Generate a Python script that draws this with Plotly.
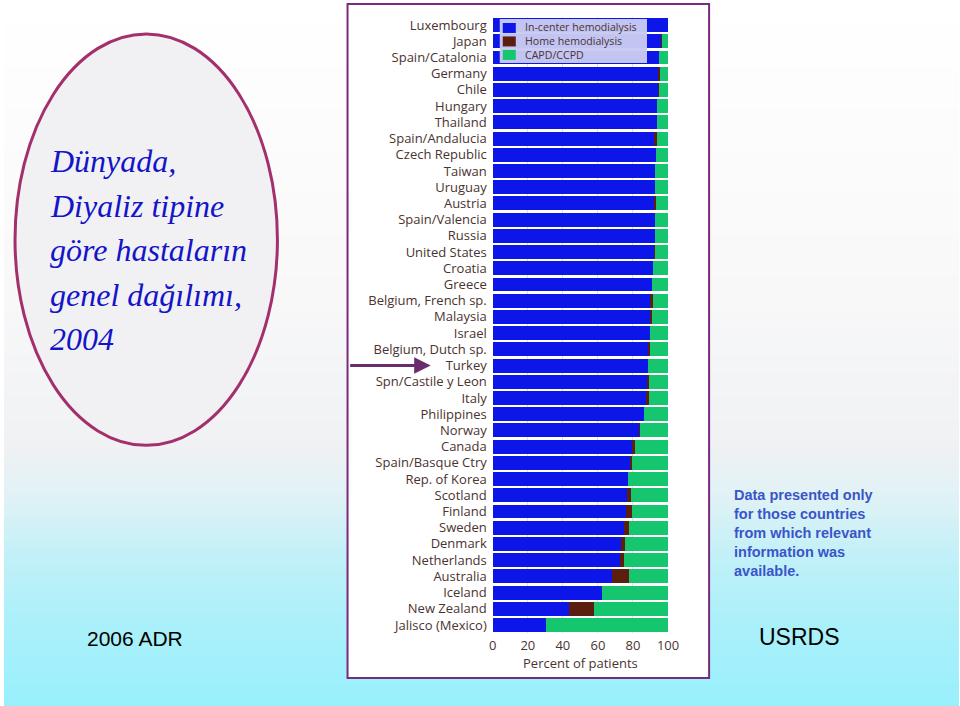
import plotly.graph_objects as go

countries = ["Luxembourg", "Japan", "Spain/Catalonia", "Germany", "Chile", "Hungary", "Thailand",
             "Spain/Andalucia", "Czech Republic", "Taiwan", "Uruguay", "Austria", "Spain/Valencia",
             "Russia", "United States", "Croatia", "Greece", "Belgium, French sp.", "Malaysia",
             "Israel", "Belgium, Dutch sp.", "Turkey", "Spn/Castile y Leon", "Italy", "Philippines",
             "Norway", "Canada", "Spain/Basque Ctry", "Rep. of Korea", "Scotland", "Finland",
             "Sweden", "Denmark", "Netherlands", "Australia", "Iceland", "New Zealand",
             "Jalisco (Mexico)"]
in_center = [100.0, 96.2, 94.8, 94.5, 94.3, 93.9, 93.5, 92.2, 92.9, 92.5, 92.5, 92.0, 92.5,
             92.3, 92.0, 91.6, 90.8, 89.9, 89.5, 89.5, 88.9, 88.5, 87.8, 87.2, 86.0,
             83.4, 79.5, 78.6, 77.4, 76.5, 75.9, 75.1, 73.4, 72.7, 68.1, 62.3, 43.6, 30.6]
home_hd = [0.0, 0.6, 0.0, 0.9, 0.5, 0.0, 0.0, 1.7, 0.0, 0.0, 0.0, 1.3, 0.0,
           0.0, 0.8, 0.0, 0.0, 1.3, 1.3, 0.0, 1.0, 0.0, 1.3, 1.7, 0.0,
           0.6, 1.9, 0.8, 0.0, 2.5, 3.4, 2.9, 2.1, 1.9, 9.9, 0.0, 14.0, 0.0]
capd = [0.0, 3.2, 5.2, 4.6, 5.2, 6.1, 6.5, 6.1, 7.1, 7.5, 7.5, 6.7, 7.5,
        7.7, 7.2, 8.4, 9.2, 8.8, 9.2, 10.5, 10.1, 11.5, 10.9, 11.1, 14.0,
        16.0, 18.6, 20.6, 22.6, 21.0, 20.7, 22.0, 24.5, 25.4, 22.0, 37.7, 42.4, 69.4]
series_names = ["In-center hemodialysis", "Home hemodialysis", "CAPD/CCPD"]
x_ticks = [0, 20, 40, 60, 80, 100]

W, H = 970, 706
SX, OX = 0.983, 7.0
def px(x):
    return ((x - OX) / SX) / W
def py(y):
    return 1 - y / H

label_color = "#4a3330"
colors = ["#0c16e8", "#5c1e0e", "#16c66e"]
fig = go.Figure()
for name, vals, col in zip(series_names, [in_center, home_hd, capd], colors):
    fig.add_trace(go.Bar(y=countries, x=vals, name=name, orientation="h", showlegend=False,
                         marker=dict(color=col, line=dict(width=0))))

shapes = []
# background gradient
stops = [(0, (255, 255, 255)), (300, (248, 248, 249)), (450, (239, 241, 243)),
         (500, (222, 242, 246)), (560, (192, 240, 248)), (620, (172, 240, 250)),
         (706, (152, 240, 252))]
def col_at(y):
    for (y0, c0), (y1, c1) in zip(stops[:-1], stops[1:]):
        if y0 <= y <= y1:
            t = (y - y0) / (y1 - y0)
            return "rgb(%d,%d,%d)" % tuple(round(a + (b - a) * t) for a, b in zip(c0, c1))
    return "rgb(152,240,252)"
step = 6
for y in range(0, H, step):
    shapes.append(dict(type="rect", xref="paper", yref="paper", x0=0, x1=1,
                       y0=max(py(y + step + 1), 0), y1=py(y), line=dict(width=0),
                       fillcolor=col_at(y + step / 2), layer="below"))
# ellipse
shapes.append(dict(type="circle", xref="paper", yref="paper", x0=px(18), x1=px(280),
                   y0=py(445), y1=py(33), fillcolor="#f1f1f4",
                   line=dict(color="#a3306c", width=3), layer="below"))
# chart frame
shapes.append(dict(type="rect", xref="paper", yref="paper", x0=px(350), x1=px(711),
                   y0=py(678), y1=py(3), fillcolor="white",
                   line=dict(color="#7a2a7e", width=2), layer="below"))
# legend box and swatches
shapes.append(dict(type="rect", xref="paper", yref="paper", x0=px(502), x1=px(649),
                   y0=py(62), y1=py(18), fillcolor="rgba(200,202,242,0.97)",
                   line=dict(width=0), layer="above"))
annotations = []
for i, col in enumerate(colors):
    yc = 27 + 13.5 * i
    shapes.append(dict(type="rect", xref="paper", yref="paper", x0=px(505), x1=px(518),
                       y0=py(yc + 5), y1=py(yc - 5), fillcolor=col, line=dict(width=0),
                       layer="above"))
annotations.append(dict(text="<br>".join(series_names), x=px(525), y=py(40.5),
                        xref="paper", yref="paper", xanchor="left", yanchor="middle",
                        align="left", showarrow=False,
                        font=dict(family="Open Sans", size=10.6, color=label_color)))

fig.update_layout(shapes=shapes)

title_lines = [("Dünyada,", 160), ("Diyaliz tipine", 205), ("göre hastaların", 249),
               ("genel dağılımı,", 294), ("2004", 338)]
for txt, y in title_lines:
    annotations.append(dict(text=txt, x=px(51), y=py(y), xref="paper", yref="paper",
                            xanchor="left", yanchor="middle", showarrow=False,
                            font=dict(family="Liberation Serif", size=32, color="#1414c8",
                                      style="italic")))
note_lines = ["Data presented only", "for those countries", "from which relevant",
              "information was", "available."]
for i, txt in enumerate(note_lines):
    annotations.append(dict(text="<b>%s</b>" % txt, x=px(734), y=py(495 + 19 * i),
                            xref="paper", yref="paper", xanchor="left", yanchor="middle",
                            showarrow=False,
                            font=dict(family="Liberation Sans", size=14.5, color="#3a55c8")))
annotations.append(dict(text="2006 ADR", x=px(138), y=py(638), xref="paper", yref="paper",
                        xanchor="center", yanchor="middle", showarrow=False,
                        font=dict(family="Liberation Sans", size=21, color="black")))
annotations.append(dict(text="USRDS", x=px(801), y=py(637), xref="paper", yref="paper",
                        xanchor="center", yanchor="middle", showarrow=False,
                        font=dict(family="Liberation Sans", size=23, color="black")))
# arrow to Turkey
annotations.append(dict(text="", x=px(433), y=py(365), ax=-82, ay=0,
                        xref="paper", yref="paper", axref="pixel", ayref="pixel",
                        showarrow=True, arrowhead=2, arrowsize=1.1, arrowwidth=3,
                        arrowcolor="#6a2c6e"))
fig.update_layout(annotations=annotations)

fig.update_layout(
    width=W, height=H, autosize=False,
    margin=dict(l=0, r=0, t=0, b=0),
    paper_bgcolor="white", plot_bgcolor="white",
    barmode="stack", bargap=0.14, showlegend=False,
    font=dict(family="Open Sans", color=label_color, size=13),
    xaxis=dict(domain=[px(495), px(670)], range=[0, 100], tickvals=x_ticks,
               showgrid=True, gridcolor="#e0e0e0", gridwidth=1, zeroline=False,
               showline=False, ticks="", tickfont=dict(size=13, color=label_color),
               ticklabelstandoff=3,
               title=dict(text="Percent of patients", font=dict(size=13, color=label_color),
                          standoff=0)),
    yaxis=dict(domain=[py(633), py(16)], categoryorder="array", categoryarray=countries,
               autorange="reversed", showgrid=False, showline=False, ticks="",
               ticklabelstandoff=5, tickfont=dict(size=13, color=label_color)),
)

fig.write_html("out.html")
